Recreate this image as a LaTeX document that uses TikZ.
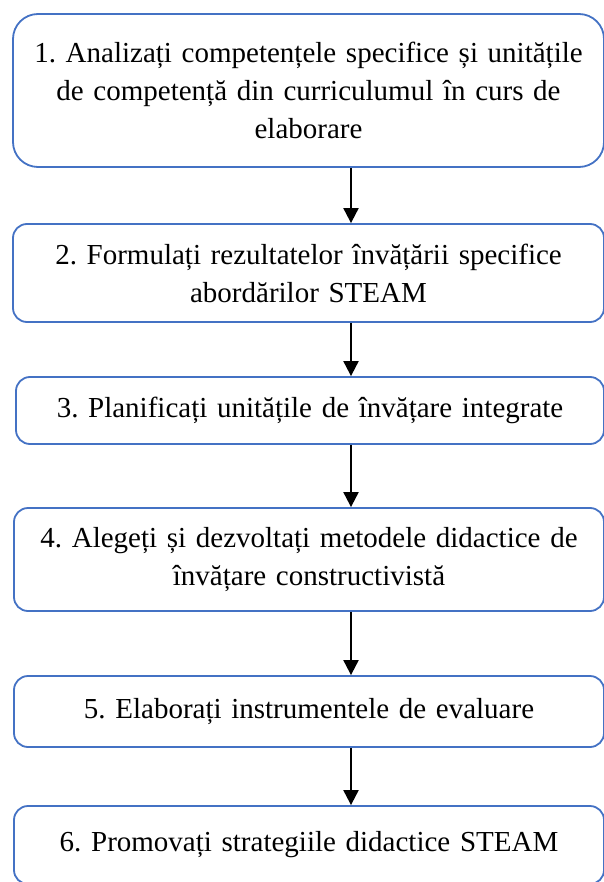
\documentclass[tikz,border=0pt]{standalone}
\usepackage{fontspec}
\setmainfont{Liberation Serif}
\usetikzlibrary{arrows.meta}
\definecolor{boxblue}{RGB}{68,114,196}
\frenchspacing

\begin{document}
\begin{tikzpicture}[x=1pt, y=-1pt, stepbox/.style={draw=boxblue, line width=1.8pt, rounded corners=14pt, minimum width=591pt, inner sep=0pt, text width=580pt, align=center, font=\fontsize{29}{38}\selectfont}, flow/.style={draw, line width=2pt, -{Triangle[width=15pt,length=15pt]}}]
        \useasboundingbox (0,0) rectangle (603,882);
        \coordinate (ax) at (351,0);

        \node[stepbox, minimum height=153pt, rounded corners=25pt] (b1) at (308.5,90.5) {1. Analizați competențele specifice și unitățile\\ de competență din curriculumul în curs de\\ elaborare};
        \node[stepbox, minimum height=98pt] (b2) at (308.5,273) {2. Formulați rezultatelor învățării specifice\\ abordărilor STEAM};
        \node[stepbox, minimum height=67pt, minimum width=588pt] (b3) at (310,410.5) {3. Planificați unitățile de învățare integrate};
        \node[stepbox, minimum height=103pt, minimum width=590pt] (b4) at (309,559.5) {4. Alegeți și dezvoltați metodele didactice de\\ învățare constructivistă};
        \node[stepbox, minimum height=71pt, minimum width=590pt] (b5) at (309,711.5) {5. Elaborați instrumentele de evaluare};
        \node[stepbox, minimum height=78pt, minimum width=590pt] (b6) at (309,845) {6. Promovați strategiile didactice STEAM};

        % arrows between the steps
        \draw[flow] (b1.south -| ax) -- (b2.north -| ax);
        \draw[flow] (b2.south -| ax) -- (b3.north -| ax);
        \draw[flow] (b3.south -| ax) -- (b4.north -| ax);
        \draw[flow] (b4.south -| ax) -- (b5.north -| ax);
        \draw[flow] (b5.south -| ax) -- (b6.north -| ax);
    \end{tikzpicture}
\end{document}
